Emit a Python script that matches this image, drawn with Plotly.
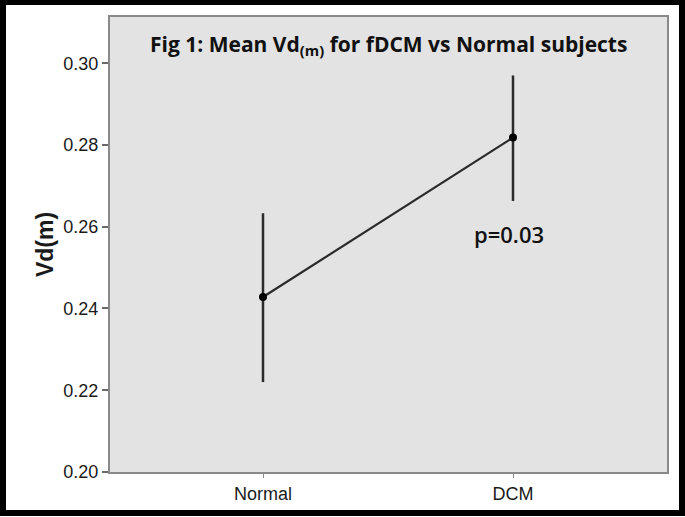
import plotly.graph_objects as go

categories = ["Normal", "DCM"]
means = [0.2428, 0.2818]
err_upper = [0.2633, 0.2970]
err_lower = [0.2220, 0.2663]
y_ticks = [0.20, 0.22, 0.24, 0.26, 0.28, 0.30]
y_tick_labels = ["0.20", "0.22", "0.24", "0.26", "0.28", "0.30"]
title_text = "Fig 1: Mean Vd<sub>(m)</sub> for fDCM vs Normal subjects"
p_label = "p=0.03"

W, H = 685, 517
ML, MR, MT, MB = 110, 18, 17, 45
PW, PH = W - ML - MR, H - MT - MB

def px_x(px):
    return (px - ML) / PW

def px_y(py):
    return (H - MB - py) / PH

fig = go.Figure()
fig.add_trace(go.Scatter(
    x=categories, y=means,
    mode="lines+markers",
    line=dict(color="#2b2b2b", width=2.2),
    marker=dict(color="black", size=8),
    error_y=dict(
        type="data", symmetric=False,
        array=[u - m for u, m in zip(err_upper, means)],
        arrayminus=[m - l for m, l in zip(means, err_lower)],
        color="#2b2b2b", thickness=2.5, width=0,
    ),
    showlegend=False,
    hoverinfo="skip",
))

fig.add_annotation(
    x=0.5, xref="paper", y=px_y(45), yref="paper",
    text=title_text, showarrow=False,
    font=dict(family="Open Sans", size=21, color="#111111", weight="bold"),
    xanchor="center", yanchor="middle",
)
fig.add_annotation(
    x=categories[1], y=means[1], yref="y",
    text=p_label, showarrow=False,
    yshift=-96, xshift=-4,
    font=dict(family="Open Sans", size=22, color="#111111", weight=600),
    xanchor="center", yanchor="middle",
)

# outer black frame
fig.add_shape(
    type="rect", xref="paper", yref="paper",
    x0=px_x(3), x1=px_x(682), y0=px_y(513), y1=px_y(2),
    line=dict(color="black", width=6), fillcolor="rgba(0,0,0,0)", layer="above",
)

fig.update_layout(
    width=W, height=H,
    margin=dict(l=ML, r=MR, t=MT, b=MB),
    paper_bgcolor="white",
    plot_bgcolor="#e3e3e3",
    font=dict(family="Liberation Sans, Arial", color="#1a1a1a"),
)
fig.update_xaxes(
    type="category", range=[-0.612, 1.616],
    showgrid=False, zeroline=False,
    showline=True, linecolor="#8a8a8a", linewidth=2, mirror=True,
    ticks="outside", ticklen=4, tickcolor="#8a8a8a", tickwidth=1,
    tickfont=dict(size=18, family="Liberation Sans, Arial", color="#1a1a1a"),
)
fig.update_yaxes(
    range=[0.20, 0.3113],
    tickvals=y_ticks, ticktext=y_tick_labels,
    showgrid=False, zeroline=False,
    showline=True, linecolor="#8a8a8a", linewidth=2, mirror=True,
    ticks="outside", ticklen=6, tickcolor="#6a6a6a", tickwidth=2,
    tickfont=dict(size=18, family="Liberation Sans, Arial", color="#1a1a1a"),
    title=dict(text="<b>Vd(m)</b>", standoff=3,
               font=dict(size=23, family="Liberation Sans, Arial", color="#1a1a1a")),
)

fig.write_html(
    "out.html",
    config={"displayModeBar": False},
    post_script="document.body.style.margin='0';document.body.style.overflow='hidden';",
)
